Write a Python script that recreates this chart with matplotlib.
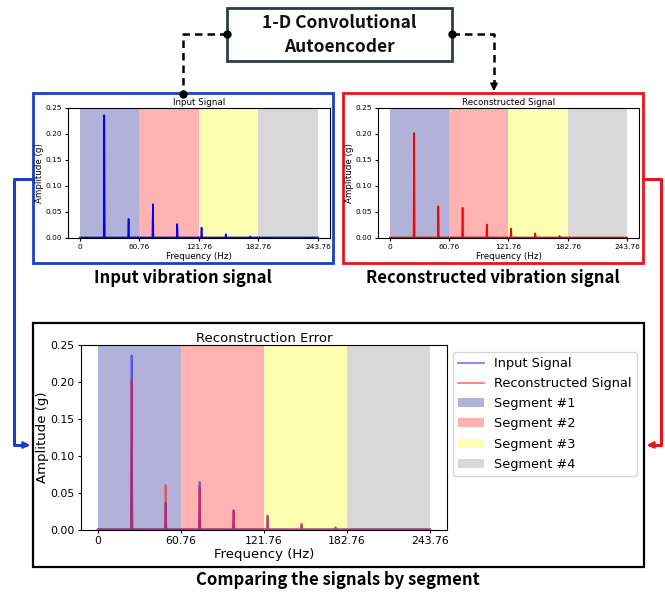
import matplotlib
matplotlib.use("Agg")
import matplotlib.pyplot as plt
from matplotlib.patches import Rectangle

# spectrum (Hz / g)
freq = [0, 24.4, 24.9, 25.4, 49.3, 49.8, 50.3, 74.2, 74.7, 75.2, 99.1, 99.6, 100.1,
        124.0, 124.5, 125.0, 148.9, 149.4, 149.9, 173.8, 174.3, 174.8, 243.76]
input_amp = [0.001, 0.001, 0.236, 0.001, 0.001, 0.037, 0.001, 0.001, 0.065, 0.001,
             0.001, 0.027, 0.001, 0.001, 0.020, 0.001, 0.001, 0.007, 0.001,
             0.001, 0.003, 0.001, 0.001]
recon_amp = [0.001, 0.001, 0.202, 0.001, 0.001, 0.061, 0.001, 0.001, 0.058, 0.001,
             0.001, 0.026, 0.001, 0.001, 0.018, 0.001, 0.001, 0.009, 0.001,
             0.001, 0.004, 0.001, 0.001]

seg_edges = [0, 60.76, 121.76, 182.76, 243.76]
seg_colors = ['navy', 'red', 'yellow', 'gray']
seg_labels = ['Segment #1', 'Segment #2', 'Segment #3', 'Segment #4']
xticks = [0, 60.76, 121.76, 182.76, 243.76]
xtick_labels = ['0', '60.76', '121.76', '182.76', '243.76']
yticks = [0.00, 0.05, 0.10, 0.15, 0.20, 0.25]

W, H = 665, 592
fig = plt.figure(figsize=(W / 100, H / 100), dpi=100)

# overlay in pixel coordinates for the diagram parts
ov = fig.add_axes([0, 0, 1, 1])
ov.set_xlim(0, W)
ov.set_ylim(H, 0)
ov.axis('off')

cap_font = ['Noto Sans CJK KR', 'DejaVu Sans']


def box(x0, y0, x1, y1, color, lw):
    ov.add_patch(Rectangle((x0, y0), x1 - x0, y1 - y0, fill=False, edgecolor=color, linewidth=lw))


def px_axes(x0, y0, x1, y1):
    return fig.add_axes([x0 / W, 1 - y1 / H, (x1 - x0) / W, (y1 - y0) / H])


def draw_segments(ax):
    for i in range(4):
        ax.axvspan(seg_edges[i], seg_edges[i + 1], color=seg_colors[i], alpha=0.3,
                   linewidth=0, label=seg_labels[i])


def style(ax, title, tfs, lfs, kfs):
    ax.set_ylim(0, 0.25)
    ax.set_xticks(xticks)
    ax.set_xticklabels(xtick_labels)
    ax.set_yticks(yticks)
    ax.tick_params(labelsize=kfs, length=2.5, pad=2)
    ax.set_title(title, fontsize=tfs, pad=2)
    ax.set_xlabel('Frequency (Hz)', fontsize=lfs, labelpad=1)
    ax.set_ylabel('Amplitude (g)', fontsize=lfs, labelpad=1)


# top block
slate = '#2f3b4c'
box(227, 8, 452, 61, slate, 2)
ov.text(339.5, 23, '1-D Convolutional', ha='center', va='center', fontsize=12.5,
        fontweight='bold', family=cap_font, color='#111111')
ov.text(339.5, 47, 'Autoencoder', ha='center', va='center', fontsize=12.5,
        fontweight='bold', family=cap_font, color='#111111')

# dashed links
ov.plot([227, 183, 183], [34, 34, 94], color='black', lw=1.8, ls=(0, (3, 2)))
ov.plot([227, 183], [34, 94], 'o', color='black', ms=5)
ov.plot([452, 494, 494], [34, 34, 86], color='black', lw=1.8, ls=(0, (3, 2)))
ov.plot([452], [34], 'o', color='black', ms=5)
ov.annotate('', xy=(494, 94), xytext=(494, 84),
            arrowprops=dict(arrowstyle='-|>', color='black', lw=1.5, mutation_scale=10))

# coloured frames
blue = '#1c3fc4'
red = '#e8141a'
box(33, 93, 333, 263, blue, 2)
box(343, 93, 643, 263, red, 2)
box(33, 323, 644, 567, 'black', 1.6)

# side connectors
ov.plot([33, 14, 14, 26], [179, 179, 445, 445], color=blue, lw=2.2)
ov.annotate('', xy=(33, 445), xytext=(22, 445),
            arrowprops=dict(arrowstyle='-|>', color=blue, lw=1.5, mutation_scale=10))
ov.plot([643, 661, 661, 650], [179, 179, 445, 445], color=red, lw=2.2)
ov.annotate('', xy=(644, 445), xytext=(655, 445),
            arrowprops=dict(arrowstyle='-|>', color=red, lw=1.5, mutation_scale=10))

# captions
ov.text(183, 278, 'Input vibration signal', ha='center', va='center', fontsize=12,
        fontweight='bold', family=cap_font)
ov.text(493, 278, 'Reconstructed vibration signal', ha='center', va='center', fontsize=12,
        fontweight='bold', family=cap_font)
ov.text(338, 580, 'Comparing the signals by segment', ha='center', va='center', fontsize=12,
        fontweight='bold', family=cap_font)

# input signal
ax1 = px_axes(68, 108, 330, 238)
draw_segments(ax1)
ax1.plot(freq, input_amp, color='blue', lw=1.2)
style(ax1, 'Input Signal', 6.3, 6.3, 5.3)

# reconstructed signal
ax2 = px_axes(378, 108, 639, 238)
draw_segments(ax2)
ax2.plot(freq, recon_amp, color='red', lw=1.2)
style(ax2, 'Reconstructed Signal', 6.3, 6.3, 5.3)

# comparison
ax3 = px_axes(81, 345, 447, 530)
ax3.plot(freq, input_amp, color='blue', alpha=0.5, lw=1.3, label='Input Signal')
ax3.plot(freq, recon_amp, color='red', alpha=0.5, lw=1.3, label='Reconstructed Signal')
draw_segments(ax3)
style(ax3, 'Reconstruction Error', 9.5, 9.5, 7.8)
h, l = ax3.get_legend_handles_labels()
fig.legend(h, l, loc='upper left', bbox_to_anchor=(453 / W, 1 - 352 / H),
           borderaxespad=0, fontsize=9.3, labelspacing=0.55)

fig.savefig('out.png', dpi=100)
